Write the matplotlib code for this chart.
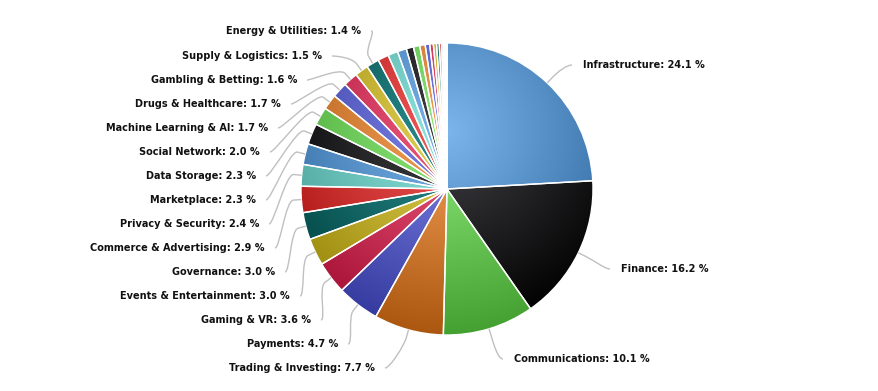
import numpy as np
import matplotlib
matplotlib.use('Agg')
import matplotlib.pyplot as plt
from matplotlib.path import Path
import matplotlib.patches as mpatches

names = ['Infrastructure', 'Finance', 'Communications', 'Trading & Investing', 'Payments',
         'Gaming & VR', 'Events & Entertainment', 'Governance', 'Commerce & Advertising',
         'Privacy & Security', 'Marketplace', 'Data Storage', 'Social Network',
         'Machine Learning & AI', 'Drugs & Healthcare', 'Gambling & Betting',
         'Supply & Logistics', 'Energy & Utilities']
shares = [24.1, 16.2, 10.1, 7.7, 4.7, 3.6, 3.0, 3.0, 2.9, 2.4, 2.3, 2.3, 2.0,
          1.7, 1.7, 1.6, 1.5, 1.4]
# small categories at the end of the pie, shown without labels
small_shares = [1.2, 1.1, 1.0, 0.8, 0.7, 0.6, 0.5, 0.4, 0.35, 0.3, 0.25, 0.2, 0.15, 0.1, 0.1, 0.05]

palette = ['#7cb5ec', '#434348', '#90ed7d', '#f7a35c', '#8085e9',
           '#f15c80', '#e4d354', '#2b908f', '#f45b5b', '#91e8e1']

# label layout in pixels (x = text edge next to the pie, y = text centre)
label_xy = {
    'Infrastructure': (583, 65), 'Finance': (621, 269), 'Communications': (514, 359),
    'Trading & Investing': (375, 368), 'Payments': (338, 344), 'Gaming & VR': (311, 320),
    'Events & Entertainment': (290, 296), 'Governance': (275, 272),
    'Commerce & Advertising': (265, 248), 'Privacy & Security': (259, 224),
    'Marketplace': (256, 200), 'Data Storage': (256, 176), 'Social Network': (260, 152),
    'Machine Learning & AI': (268, 128), 'Drugs & Healthcare': (281, 104),
    'Gambling & Betting': (297, 80), 'Supply & Logistics': (322, 56),
    'Energy & Utilities': (361, 31),
}

W, H = 879, 391
cx, cy, R = 447, H - 189, 146

values = shares + small_shares
colors = [palette[i % len(palette)] for i in range(len(values))]

fig = plt.figure(figsize=(W / 100, H / 100), dpi=100)
ax = fig.add_axes([0, 0, 1, 1])

wedges, _ = ax.pie(values, colors=colors, startangle=90, counterclock=False,
                   center=(cx, cy), radius=R,
                   wedgeprops=dict(edgecolor='white', linewidth=1))

# radial gradient like highcharts (cx .5, cy .3, r .7, brighten -0.3)
n = 400
xs = np.linspace(cx - R - 2, cx + R + 2, n)
ys = np.linspace(cy - R - 2, cy + R + 2, n)
X, Y = np.meshgrid(xs, ys)
gx, gy = cx, cy + 0.2 * 2 * R
t = np.clip(np.hypot(X - gx, Y - gy) / (0.7 * 2 * R), 0, 1)[..., None]
for w, c in zip(wedges, colors):
    c0 = np.array(matplotlib.colors.to_rgb(c))
    c1 = np.clip(c0 - 76 / 255, 0, 1)
    img = c0 * (1 - t) + c1 * t
    im = ax.imshow(img, extent=(xs[0], xs[-1], ys[0], ys[-1]), origin='lower',
                   interpolation='bilinear', zorder=0.5)
    im.set_clip_path(w)
    w.set_facecolor('none')
    w.set_zorder(1)

# labels + connectors
total = sum(values)
cum = 0
for name, v in zip(names, shares):
    mid = 90 - 360 * (cum + v / 2) / total
    cum += v
    a = np.radians(mid)
    lx, ly = label_xy[name]
    ly = H - ly
    right = np.cos(a) > 0
    touch = np.array([cx + R * np.cos(a), cy + R * np.sin(a)])
    brk = np.array([cx + (R + 8) * np.cos(a), cy + (R + 8) * np.sin(a)])
    if right:
        anc = np.array([lx - 11, ly])
        c1 = anc + [-5, 0]
        ha = 'left'
    else:
        anc = np.array([lx + 10, ly])
        c1 = anc + [5, 0]
        ha = 'right'
    c2 = 2 * brk - touch
    path = Path([anc, c1, c2, brk, touch],
                [Path.MOVETO, Path.CURVE4, Path.CURVE4, Path.CURVE4, Path.LINETO])
    ax.add_patch(mpatches.PathPatch(path, fill=False, edgecolor='#c0c0c0', lw=1, zorder=2))
    ax.text(lx, ly, f'{name}: {v:.1f} %', ha=ha, va='center', fontsize=7,
            fontweight='bold', color='#111111', family='DejaVu Sans', zorder=3)

ax.set_xlim(0, W)
ax.set_ylim(0, H)
ax.set_aspect('equal')
ax.axis('off')
fig.savefig('out.png', dpi=100)
